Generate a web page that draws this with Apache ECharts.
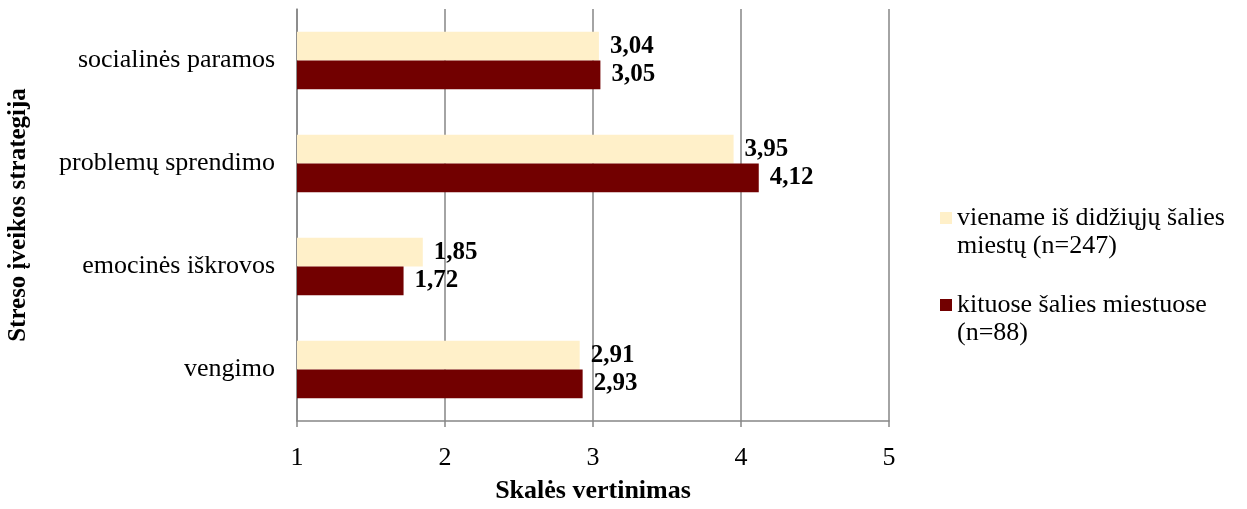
<!DOCTYPE html>
<html><head><meta charset="utf-8">
<script src="https://cdn.jsdelivr.net/npm/echarts@6/dist/echarts.min.js"></script>
<style>html,body{margin:0;padding:0;background:#fff}#c{width:1247px;height:509px}</style>
</head><body><div id="c"></div>
<script>
const categories = ['socialinės paramos', 'problemų sprendimo', 'emocinės iškrovos', 'vengimo'];
const seriesNames = ['viename iš didžiųjų šalies\nmiestų (n=247)', 'kituose šalies miestuose\n(n=88)'];
const bigCities = [3.04, 3.95, 1.85, 2.91];
const otherCities = [3.05, 4.12, 1.72, 2.93];
const xTicks = [1, 2, 3, 4, 5];

const font = '"Liberation Serif", "Times New Roman", serif';
const chart = echarts.init(document.getElementById('c'));
const legendIcon = 'path://M0,0h0M0,8h12v12h-12zM12,56h0';
const lbl = {show: true, position: 'right', distance: 11, fontFamily: font, fontWeight: 'bold', fontSize: 25, color: '#000',
  formatter: p => p.value.toFixed(2).replace('.', ',')};
chart.setOption({
  animation: false,
  grid: {left: 297, right: 358, top: 9, bottom: 84},
  legend: {
    orient: 'vertical', left: 935, top: 199, itemGap: 31, itemWidth: 12, itemHeight: 56,
    textStyle: {fontFamily: font, fontSize: 26, color: '#000', lineHeight: 28},
    data: [{name: seriesNames[0], icon: legendIcon}, {name: seriesNames[1], icon: legendIcon}]
  },
  xAxis: {
    type: 'value', min: xTicks[0], max: xTicks[xTicks.length - 1], interval: 1,
    name: 'Skalės vertinimas', nameLocation: 'middle', nameGap: 57,
    nameTextStyle: {fontFamily: font, fontWeight: 'bold', fontSize: 26, color: '#000'},
    axisLine: {show: true, lineStyle: {color: '#868686', width: 1.5}},
    axisTick: {show: true, length: 6, lineStyle: {color: '#868686', width: 1.5}},
    axisLabel: {fontFamily: font, fontSize: 26, color: '#000', margin: 24},
    splitLine: {show: true, lineStyle: {color: '#868686', width: 1.5}}
  },
  yAxis: {
    type: 'category', data: categories, inverse: true,
    name: 'Streso įveikos strategija', nameLocation: 'middle', nameGap: 266, nameRotate: 90,
    nameTextStyle: {fontFamily: font, fontWeight: 'bold', fontSize: 25, color: '#000'},
    axisLine: {show: true, lineStyle: {color: '#868686', width: 1.5}},
    axisTick: {show: false},
    axisLabel: {fontFamily: font, fontSize: 26, color: '#000', margin: 22}
  },
  series: [
    {name: seriesNames[0], type: 'bar', data: bigCities, itemStyle: {color: '#FFF0C9'}, barGap: '0%', barCategoryGap: '44%', label: lbl},
    {name: seriesNames[1], type: 'bar', data: otherCities, itemStyle: {color: '#720000'}, barGap: '0%', barCategoryGap: '44%', label: lbl}
  ]
});
</script></body></html>
